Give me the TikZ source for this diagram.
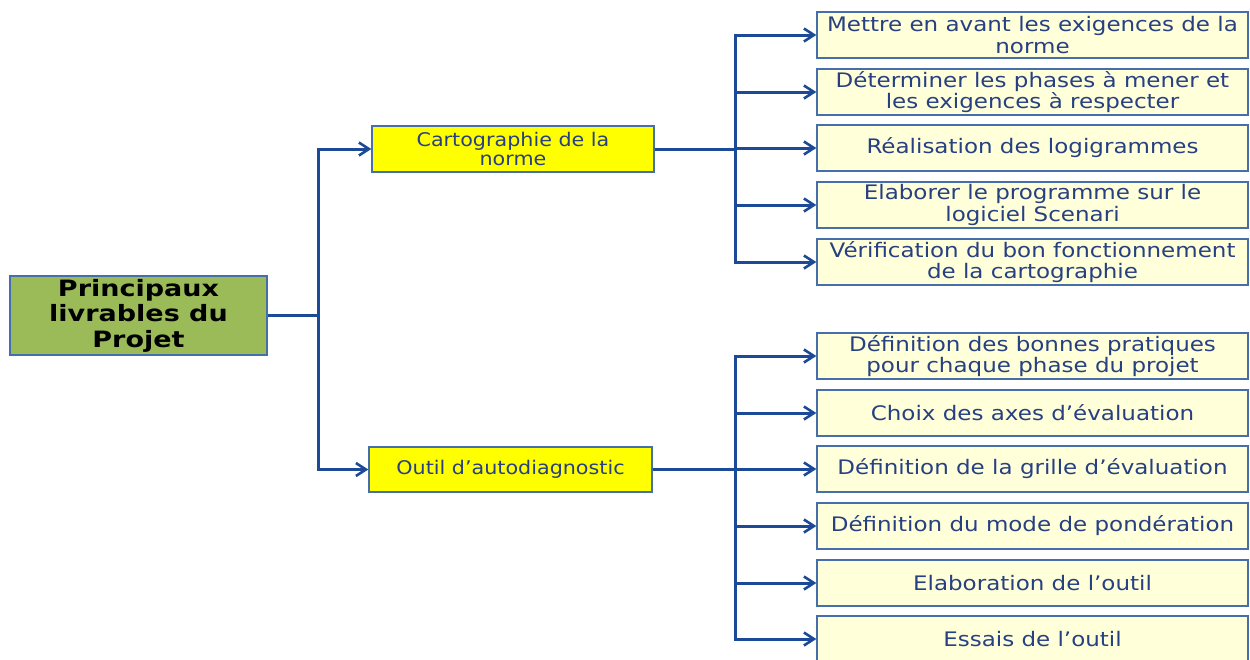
\documentclass[tikz,border=0pt]{standalone}
\usepackage{fontspec}
\usetikzlibrary{arrows.meta}
\newfontfamily\leaffont[FakeStretch=1.15]{DejaVu Sans}
\newfontfamily\midfont[FakeStretch=1.1]{DejaVu Sans}
\newfontfamily\rootfont[FakeStretch=1.2]{DejaVu Sans}
\definecolor{linkblue}{RGB}{28,74,150}
\definecolor{edgeblue}{RGB}{70,110,170}
\definecolor{textblue}{RGB}{38,64,130}
\definecolor{rootgreen}{RGB}{155,187,89}
\definecolor{midyellow}{RGB}{255,255,0}
\definecolor{leafcream}{RGB}{255,255,218}
\tikzset{
  rootbox/.style={draw=edgeblue, line width=1.4pt, fill=rootgreen, minimum width=257pt,
    minimum height=79pt, inner sep=0pt, align=center, text=black,
    font=\rootfont\bfseries\fontsize{22.5}{25.5}\selectfont},
  midbox/.style={draw=edgeblue, line width=1.4pt, fill=midyellow, minimum width=282pt,
    minimum height=46pt, inner sep=0pt, align=center, text=textblue,
    font=\midfont\fontsize{18.8}{19.5}\selectfont},
  leafbox/.style={draw=edgeblue, line width=1.4pt, fill=leafcream, minimum width=431pt,
    minimum height=46pt, inner sep=0pt, align=center, text=textblue,
    font=\leaffont\fontsize{20}{21.5}\selectfont},
  link/.style={draw=linkblue, line width=3pt,
    -{Straight Barb[length=10pt,width=13pt,line width=2.6pt]}},
}
\begin{document}
\begin{tikzpicture}[x=1pt,y=-1pt]
\useasboundingbox (0,0) rectangle (1250,659);

% root and the two main deliverables
\node[rootbox] (root) at (138.5,315.5) {Principaux\\livrables du\\Projet};
\node[midbox] (c1) at (513,149) {Cartographie de la\\norme};
\node[midbox, minimum width=283pt, minimum height=45pt] (c2) at (510.5,469.5) {Outil d’autodiagnostic};

% tasks of the first deliverable
\node[leafbox] (l1) at (1032.5,35) {Mettre en avant les exigences de la\\norme};
\node[leafbox] (l2) at (1032.5,92) {Déterminer les phases à mener et\\les exigences à respecter};
\node[leafbox] (l3) at (1032.5,148) {Réalisation des logigrammes};
\node[leafbox] (l4) at (1032.5,205) {Elaborer le programme sur le\\logiciel Scenari};
\node[leafbox] (l5) at (1032.5,262) {Vérification du bon fonctionnement\\de la cartographie};

% tasks of the second deliverable
\node[leafbox] (m1) at (1032.5,356) {Définition des bonnes pratiques\\pour chaque phase du projet};
\node[leafbox] (m2) at (1032.5,413) {Choix des axes d’évaluation};
\node[leafbox] (m3) at (1032.5,469) {Définition de la grille d’évaluation};
\node[leafbox] (m4) at (1032.5,526) {Définition du mode de pondération};
\node[leafbox] (m5) at (1032.5,583) {Elaboration de l’outil};
\node[leafbox] (m6) at (1032.5,639) {Essais de l’outil};

% connectors
\foreach \c in {c1,c2}
  \draw[link] (root.east) -- ++(51,0) |- (\c.west);
\foreach \l in {l1,l2,l3,l4,l5}
  \draw[link] (c1.east) -- ++(81,0) |- (\l.west);
\foreach \m in {m1,m2,m3,m4,m5,m6}
  \draw[link] (c2.east) -- ++(83,0) |- (\m.west);
\end{tikzpicture}
\end{document}
